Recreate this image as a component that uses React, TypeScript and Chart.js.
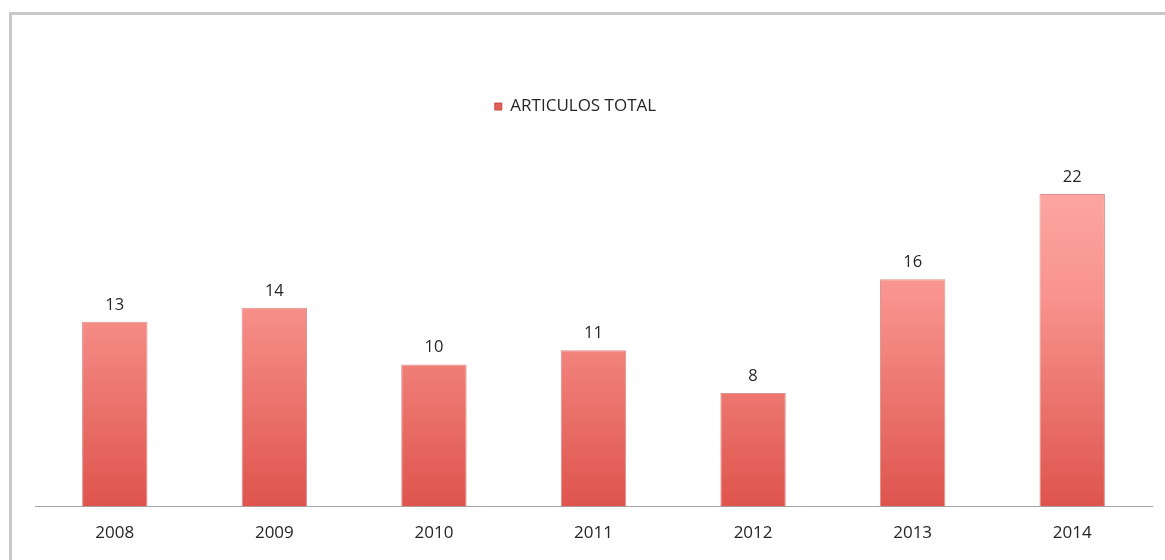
import React, { useEffect, useRef } from "react";
import { Chart, registerables } from "chart.js";

Chart.register(...registerables);

const years = ["2008", "2009", "2010", "2011", "2012", "2013", "2014"];
const articulos = [13, 14, 10, 11, 8, 16, 22];
const seriesLabel = "ARTICULOS TOTAL";

const FONT = "'Open Sans', Lato, sans-serif";

const valueLabels = {
  id: "valueLabels",
  afterDatasetsDraw(chart: any) {
    const ctx = chart.ctx;
    const meta = chart.getDatasetMeta(0);
    ctx.save();
    ctx.font = `16.5px ${FONT}`;
    ctx.fillStyle = "#262626";
    ctx.textAlign = "center";
    ctx.textBaseline = "alphabetic";
    meta.data.forEach((bar: any, i: number) => {
      ctx.fillText(String(chart.data.datasets[0].data[i]), bar.x, bar.y - 12);
    });
    ctx.restore();
  },
};

const legendShift = {
  id: "legendShift",
  afterLayout(chart: any) {
    const lg = chart.legend;
    if (lg) {
      lg.left -= 18;
      lg.right -= 18;
    }
  },
};

export default function App() {
  const ref = useRef<HTMLCanvasElement>(null);
  useEffect(() => {
    if (!ref.current) return;
    const chart = new Chart(ref.current, {
      type: "bar",
      data: {
        labels: years,
        datasets: [
          {
            label: seriesLabel,
            data: articulos,
            backgroundColor: (c: any) => {
              const ch = c.chart;
              const area = ch.chartArea;
              if (!area) return "#f07a75";
              if (c.type !== "data") {
                return "#e25a55";
              }
              const el = ch.getDatasetMeta(0).data[c.dataIndex] as any;
              const top = el && isFinite(el.y) ? el.y : area.top;
              const bottom = area.bottom;
              const g = ch.ctx.createLinearGradient(0, top, 0, bottom);
              g.addColorStop(0, "#ffb2ae");
              g.addColorStop(0.45, "#f8938d");
              g.addColorStop(1, "#de544d");
              return g;
            },
            borderColor: "rgba(205,95,90,0.7)",
            borderWidth: 1,
            borderSkipped: "bottom",
            categoryPercentage: 1,
            barPercentage: 0.41,
          },
        ],
      },
      options: {
        responsive: false,
        animation: false,
        layout: { padding: { top: 88, left: 35, right: 13, bottom: 0 } },
        plugins: {
          legend: {
            display: true,
            position: "top",
            labels: {
              boxWidth: 7,
              boxHeight: 7,
              padding: 10,
              color: "#262626",
              font: { family: FONT, size: 17 },
              generateLabels: (ch: any) => [
                {
                  text: seriesLabel,
                  fillStyle: "#e0605a",
                  strokeStyle: "#c84a45",
                  lineWidth: 1,
                  fontColor: "#262626",
                  hidden: false,
                  datasetIndex: 0,
                },
              ],
            },
          },
          tooltip: { enabled: false },
        },
        scales: {
          x: {
            grid: { display: false, drawTicks: false },
            border: { display: true, color: "#a6a6a6", width: 1 },
            ticks: {
              color: "#262626",
              padding: 16.5,
              font: { family: FONT, size: 17 },
            },
          },
          y: {
            display: false,
            min: 0,
            max: 26.85,
          },
        },
      },
      plugins: [valueLabels, legendShift],
    });
    return () => chart.destroy();
  }, []);

  return (
    <div style={{ position: "absolute", left: 0, top: 0, width: 1165, height: 560, overflow: "hidden", background: "#fff" }}>
      <div
        style={{
          position: "absolute",
          left: 9,
          top: 12,
          width: 1300,
          height: 700,
          borderTop: "3px solid #c8c8c8",
          borderLeft: "3px solid #c8c8c8",
        }}
      />
      <canvas ref={ref} width={1165} height={560} style={{ position: "absolute", left: 0, top: 0 }} />
    </div>
  );
}
